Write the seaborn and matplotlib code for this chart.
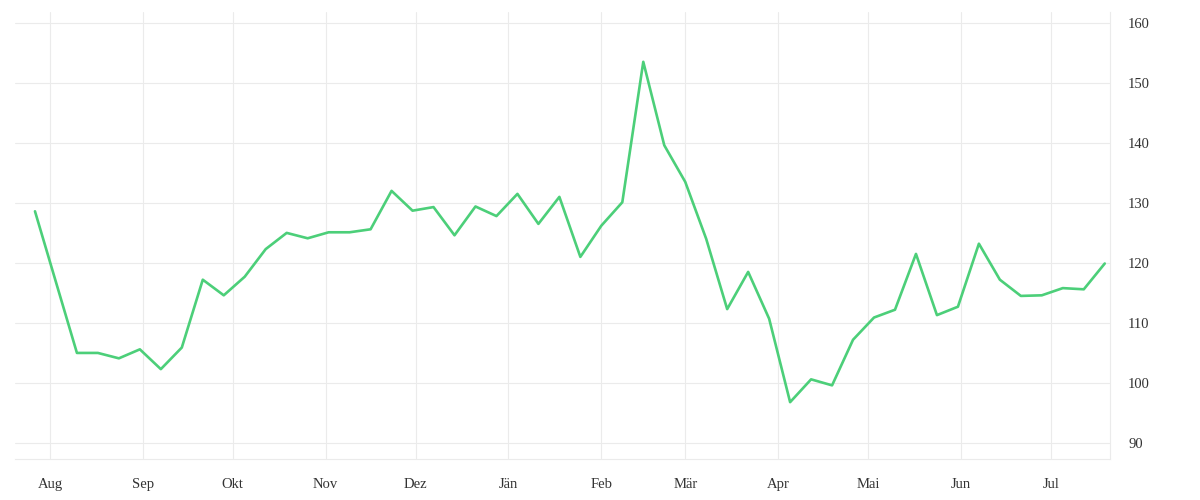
import pandas as pd
import matplotlib.pyplot as plt
import matplotlib.dates as mdates
import seaborn as sns

# weekly values, late July to mid July of the following year
start_date = "2020-07-27"
values = [128.6, 116.8, 105.0, 105.0, 104.1, 105.6, 102.3, 105.9, 117.2, 114.6,
          117.7, 122.3, 125.0, 124.1, 125.1, 125.1, 125.6, 132.0, 128.7, 129.3,
          124.6, 129.4, 127.8, 131.5, 126.5, 131.0, 121.0, 126.2, 130.1, 153.5,
          139.6, 133.5, 124.0, 112.3, 118.5, 110.7, 96.8, 100.6, 99.6, 107.2,
          110.9, 112.2, 121.5, 111.3, 112.7, 123.2, 117.2, 114.5, 114.6, 115.8,
          115.6, 119.9]
month_labels = ["Aug", "Sep", "Okt", "Nov", "Dez", "Jän", "Feb", "Mär", "Apr", "Mai", "Jun", "Jul"]
y_ticks = [90, 100, 110, 120, 130, 140, 150, 160]

df = pd.DataFrame({
    "Datum": pd.date_range(start_date, periods=len(values), freq="7D"),
    "Wert": values,
})

sns.set_theme(style="whitegrid")
plt.rcParams["font.family"] = ["Liberation Serif", "DejaVu Serif"]

fig = plt.figure(figsize=(12, 5), dpi=100)
ax = fig.add_axes([0.0125, 0.082, 0.9125, 0.894])

sns.lineplot(data=df, x="Datum", y="Wert", color="#4ccf79", linewidth=1.9, ax=ax)

month_starts = pd.date_range("2020-08-01", periods=len(month_labels), freq="MS")
ax.set_xticks(month_starts)
ax.set_xticklabels(month_labels)
ax.set_xlim(pd.Timestamp("2020-07-20 08:00"), pd.Timestamp("2021-07-20 18:00"))

ax.set_ylim(87.33, 161.8)
ax.set_yticks(y_ticks)
ax.yaxis.tick_right()

ax.grid(True, color="#ebebeb", linewidth=0.8)
ax.set_xlabel("")
ax.set_ylabel("")
for side in ["left", "top"]:
    ax.spines[side].set_visible(False)
for side in ["right", "bottom"]:
    ax.spines[side].set_color("#ebebeb")
    ax.spines[side].set_linewidth(0.8)

ax.tick_params(axis="both", length=0, labelsize=10.5, colors="#333333")
ax.tick_params(axis="x", pad=14)
ax.tick_params(axis="y", pad=13)
for lbl in ax.get_yticklabels():
    lbl.set_horizontalalignment("left")

fig.savefig("out.png", dpi=100)
